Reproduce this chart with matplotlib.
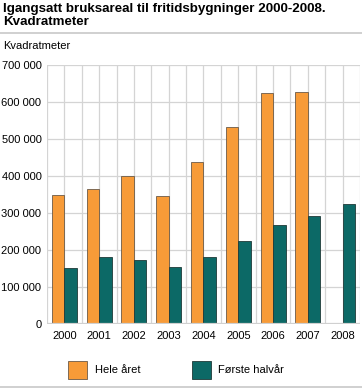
import numpy as np
import matplotlib.pyplot as plt
from matplotlib.patches import Rectangle
from matplotlib.lines import Line2D

plt.rcParams['font.family'] = ['Liberation Sans', 'DejaVu Sans']

years = ['2000', '2001', '2002', '2003', '2004', '2005', '2006', '2007', '2008']
hele_aret = [348000, 365000, 401000, 346000, 439000, 532000, 625000, 626000, np.nan]
forste_halvar = [151000, 180000, 174000, 155000, 182000, 225000, 268000, 292000, 325000]
yticks = [0, 100000, 200000, 300000, 400000, 500000, 600000, 700000]
ytick_labels = ['0', '100 000', '200 000', '300 000', '400 000', '500 000', '600 000', '700 000']

orange = '#F79B38'
teal = '#0C6966'

W, H = 362, 389
fig = plt.figure(figsize=(W / 100, H / 100), dpi=100)
ax = fig.add_axes([47 / W, 1 - 324 / H, 313 / W, 259 / H])

x = np.arange(len(years))
bw = 0.36
ax.bar(x - bw / 2, hele_aret, bw, color=orange, edgecolor='#6b5a48', linewidth=0.6, zorder=3)
ax.bar(x + bw / 2, forste_halvar, bw, color=teal, edgecolor='#1f3a38', linewidth=0.6, zorder=3)

ax.set_xlim(-0.5, len(years) - 0.5)
ax.set_ylim(0, 700000)
ax.set_yticks(yticks)
ax.set_yticklabels(ytick_labels)
ax.set_xticks(x)
ax.set_xticklabels(years)
for v in np.arange(-0.5, len(years), 0.5):
    ax.axvline(v, color='#d4d4d4', linewidth=0.9, zorder=1)
for v in yticks:
    ax.axhline(v, color='#d4d4d4', linewidth=0.9, zorder=1)
ax.axhline(0, color='#d0d0d0', linewidth=1.6, zorder=4)
for s in ax.spines.values():
    s.set_visible(False)
ax.tick_params(axis='y', length=0, labelsize=8, pad=4)
ax.tick_params(axis='x', length=0, labelsize=8, pad=5)

fig.text(3 / W, 1 - 3 / H, 'Igangsatt bruksareal til fritidsbygninger 2000-2008.\nKvadratmeter',
         fontsize=9.6, fontweight='bold', va='top', ha='left', linespacing=1.1)
fig.add_artist(Line2D([0, 1], [1 - 33 / H, 1 - 33 / H], color='#c8c8c8', linewidth=1.2))
fig.text(3 / W, 1 - 46 / H, 'Kvadratmeter', fontsize=8, va='center', ha='left')

# legend
fig.add_artist(Rectangle((68 / W, 1 - 379 / H), 19 / W, 18 / H, facecolor=orange,
                         edgecolor='#6b5a48', linewidth=0.6))
fig.text(95 / W, 1 - 370 / H, 'Hele året', fontsize=8, va='center', ha='left')
fig.add_artist(Rectangle((192 / W, 1 - 379 / H), 19 / W, 18 / H, facecolor=teal,
                         edgecolor='#1f3a38', linewidth=0.6))
fig.text(218 / W, 1 - 370 / H, 'Første halvår', fontsize=8, va='center', ha='left')
fig.add_artist(Line2D([0, 1], [1 - 387 / H, 1 - 387 / H], color='#c8c8c8', linewidth=1.2))

fig.savefig('out.png', dpi=100)
